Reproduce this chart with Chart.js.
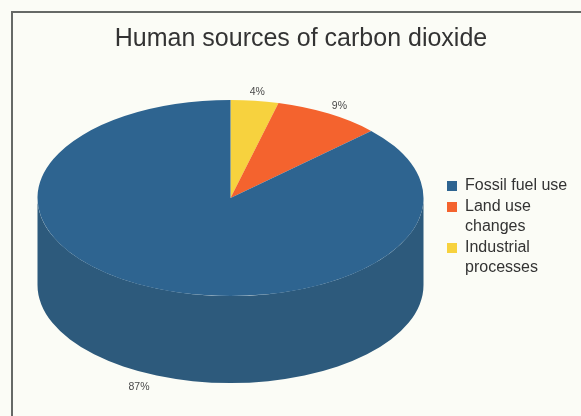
<!DOCTYPE html>
<html>
<head>
<meta charset="utf-8">
<script src="https://cdn.jsdelivr.net/npm/chart.js@4"></script>
<style>
  html, body { margin: 0; padding: 0; background: #fbfcf6; }
  #wrap { position: relative; width: 581px; height: 416px; }
</style>
</head>
<body>
<div id="wrap"><canvas id="c" width="581" height="416"></canvas></div>
<script>
// Chart content
const chartTitle = 'Human sources of carbon dioxide';
const categories = ['Fossil fuel use', 'Land use changes', 'Industrial processes'];
const shares = [87, 9, 4];
const shareLabels = ['87%', '9%', '4%'];
const topColors = ['#2e6490', '#f4632e', '#f7d23e'];
const sideColors = ['#2d5a7c', '#c24e22', '#c5a832'];

// Slices run clockwise from 12 o'clock: industrial, land use, fossil fuel
const order = [2, 1, 0];

const TILT = 0.508;   // vertical squash of the pie disc
const DEPTH = 87;     // height of the cylinder wall
const FONT = '"Liberation Sans", Arial, sans-serif';

function wrapText(ctx, text, maxW) {
  const words = text.split(' ');
  const lines = [];
  let cur = '';
  for (const w of words) {
    const t = cur ? cur + ' ' + w : w;
    if (cur && ctx.measureText(t).width > maxW) { lines.push(cur); cur = w; }
    else cur = t;
  }
  if (cur) lines.push(cur);
  return lines;
}

const pie3d = {
  id: 'pie3d',
  beforeDraw(chart) {
    const ctx = chart.ctx;
    ctx.save();
    ctx.fillStyle = '#fbfcf6';
    ctx.fillRect(0, 0, chart.width, chart.height);
    // frame
    ctx.fillStyle = '#666966';
    ctx.fillRect(11, 11, chart.width - 11, 2);
    ctx.fillRect(11, 11, 2, chart.height - 11);
    ctx.restore();
  },
  beforeDatasetsDraw(chart) {
    const ctx = chart.ctx;
    const meta = chart.getDatasetMeta(0);
    const arcs = meta.data;
    if (!arcs.length) return;
    const cx = arcs[0].x, cy = arcs[0].y, r = arcs[0].outerRadius;
    const ry = r * TILT;
    ctx.save();
    // cylinder wall: only the front half (canvas angles 0..PI) is visible
    arcs.forEach((arc, i) => {
      const TAU = Math.PI * 2;
      let a0 = arc.startAngle, a1 = arc.endAngle;
      for (let k = -1; k <= 1; k++) {
        const s = Math.max(a0 + k * TAU, 0);
        const e = Math.min(a1 + k * TAU, Math.PI);
        if (e <= s) continue;
        ctx.beginPath();
        ctx.ellipse(cx, cy, r, ry, 0, s, e, false);
        ctx.ellipse(cx, cy + DEPTH, r, ry, 0, e, s, true);
        ctx.closePath();
        ctx.fillStyle = sideColors[order[i]];
        ctx.fill();
      }
    });
    // squash the disc drawn by the controller
    ctx.translate(cx, cy);
    ctx.scale(1, TILT);
    ctx.translate(-cx, -cy);
  },
  afterDatasetsDraw(chart) {
    chart.ctx.restore();
  },
  afterDraw(chart) {
    const ctx = chart.ctx;
    const meta = chart.getDatasetMeta(0);
    const arcs = meta.data;
    const cx = arcs[0].x, cy = arcs[0].y, r = arcs[0].outerRadius;
    ctx.save();
    // title
    ctx.fillStyle = '#333333';
    ctx.font = '25px ' + FONT;
    ctx.textAlign = 'center';
    ctx.textBaseline = 'alphabetic';
    ctx.fillText(chartTitle, 301, 46);

    // percentage labels outside the rim
    ctx.font = '10.5px ' + FONT;
    ctx.fillStyle = '#4a4a4a';
    ctx.textBaseline = 'middle';
    arcs.forEach((arc, i) => {
      const mid = (arc.startAngle + arc.endAngle) / 2;
      const lr = r + 21;
      const x = cx + Math.cos(mid) * lr;
      let y = cy + Math.sin(mid) * lr * TILT + 2;
      if (Math.sin(mid) > 0) y += DEPTH;
      const leftSide = Math.cos(mid) < -0.3;
      ctx.textAlign = leftSide ? 'right' : 'center';
      ctx.fillText(shareLabels[order[i]], leftSide ? x + 4 : x, y);
    });

    // legend
    ctx.font = '16px ' + FONT;
    ctx.textAlign = 'left';
    let y = 186;
    categories.forEach((name, i) => {
      ctx.fillStyle = topColors[i];
      ctx.fillRect(447, y - 5, 10, 10);
      ctx.fillStyle = '#333333';
      const lines = wrapText(ctx, name, 110);
      lines.forEach((ln, j) => ctx.fillText(ln, 465, y + j * 20));
      y += lines.length * 20 + 1;
    });
    ctx.restore();
  }
};

new Chart(document.getElementById('c'), {
  type: 'pie',
  data: {
    labels: order.map(i => categories[i]),
    datasets: [{
      data: order.map(i => shares[i]),
      backgroundColor: order.map(i => topColors[i]),
      borderWidth: 0,
      hoverOffset: 0,
      offset: 0
    }]
  },
  options: {
    responsive: false,
    animation: false,
    events: [],
    radius: 193,
    rotation: 0,
    layout: { padding: { left: 0, right: 120, top: 0, bottom: 20 } },
    plugins: {
      legend: { display: false },
      title: { display: false },
      tooltip: { enabled: false }
    }
  },
  plugins: [pie3d]
});
</script>
</body>
</html>
